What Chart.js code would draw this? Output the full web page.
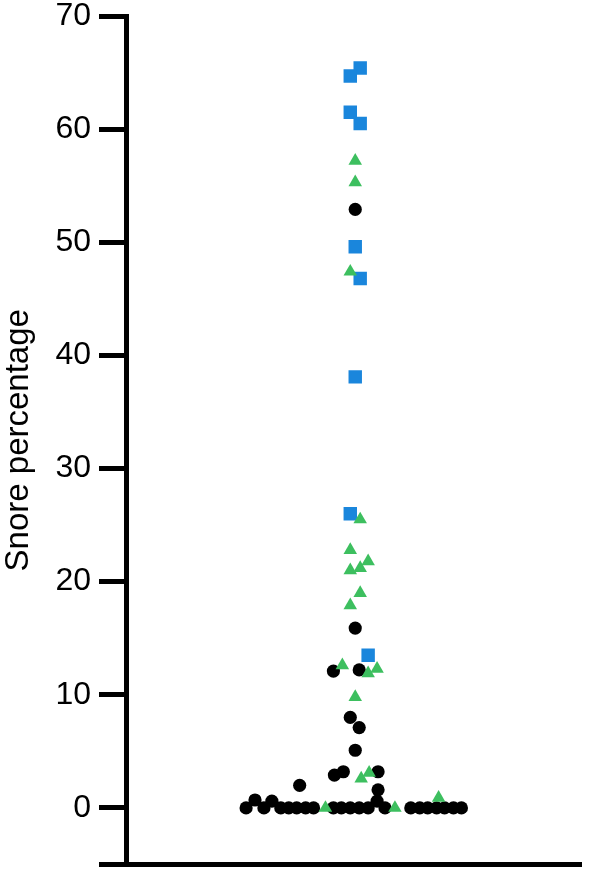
<!DOCTYPE html>
<html>
<head>
<meta charset="utf-8">
<script src="https://cdn.jsdelivr.net/npm/chart.js@4/dist/chart.umd.min.js"></script>
<style>
  html, body { margin: 0; padding: 0; background: #fff; }
  #wrap { width: 591px; height: 874px; }
</style>
</head>
<body>
<div id="wrap"><canvas id="snoreChart"></canvas></div>
<script>
// tick labels on the y axis (the -5 tick only closes the corner, no label)
const yTicks = [-5, 0, 10, 20, 30, 40, 50, 60, 70];

// snore percentage per subject, with its horizontal swarm offset
const blackY = [0, 0.7, 0, 0.6, 0, 0, 0, 0, 0,
                0, 0, 0, 0, 0, 0.6, 0,
                0, 0, 0, 0, 0, 0, 0,
                2.0, 2.9, 3.2, 3.2, 1.6, 5.1, 8.0, 7.1, 12.1, 12.2, 15.9, 52.9];
const blackX = [-110, -101, -92, -84, -75, -67, -59, -50, -42,
                -22, -14, -5, 4, 13, 22, 30,
                56, 65, 73, 82, 90, 99, 107,
                -56, -21, -12, 23, 23, 0, -5, 4, -22, 4, 0, 0];

const greenY = [0, 0, 0.9, 2.6, 3.1, 9.8, 12.6, 12.3, 11.9,
                17.9, 19.0, 21.0, 21.2, 21.8, 22.8, 25.5, 47.4, 55.3, 57.2];
const greenX = [-30, 40, 84, 6, 14, 0, -13, 22, 13,
                -5, 5, -5, 5, 13, -5, 5, -5, 0, 0];

const blueY = [65.4, 64.7, 61.5, 60.5, 49.6, 46.8, 38.1, 26.0, 13.5];
const blueX = [5, -5, -5, 5, 0, 5, 0, -5, 13];

const toPoints = (xs, ys) => ys.map((y, i) => ({ x: xs[i], y: y }));

const ctx = document.getElementById('snoreChart').getContext('2d');
const snoreChart = new Chart(ctx, {
    type: 'scatter',
    data: {
        datasets: [
            {
                label: 'green',
                data: toPoints(greenX, greenY),
                pointStyle: 'triangle',
                pointRadius: 7.8,
                backgroundColor: '#3dbf5f',
                borderWidth: 0
            },
            {
                label: 'blue',
                data: toPoints(blueX, blueY),
                pointStyle: 'rect',
                pointRadius: 9.5,
                backgroundColor: '#1a86dc',
                borderWidth: 0
            },
            {
                label: 'black',
                data: toPoints(blackX, blackY),
                pointStyle: 'circle',
                pointRadius: 6.6,
                backgroundColor: '#000000',
                borderWidth: 0
            }
        ]
    },
    options: {
        responsive: true,
        maintainAspectRatio: false,
        animation: false,
        layout: { padding: { top: 16, right: 4, left: 0, bottom: -3 } },
        plugins: {
            legend: { display: false },
            tooltip: { enabled: false }
        },
        scales: {
            x: {
                type: 'linear',
                min: -231,
                max: 228,
                ticks: { display: false },
                grid: { display: false },
                border: { display: true, width: 5, color: '#000' },
                afterFit: (axis) => {
                    axis.height = 1;
                    axis.paddingLeft = 0;
                    axis.paddingRight = 0;
                    axis.paddingTop = 0;
                    axis.paddingBottom = 0;
                }
            },
            y: {
                min: -5,
                max: 70,
                afterBuildTicks: (axis) => {
                    axis.ticks = yTicks.map(v => ({ value: v }));
                },
                ticks: {
                    padding: 8,
                    color: '#000',
                    font: { family: "'Liberation Sans', Arial, sans-serif", size: 32, lineHeight: 1 },
                    callback: (v) => v < 0 ? '' : String(v)
                },
                grid: {
                    display: true,
                    drawOnChartArea: false,
                    drawTicks: true,
                    tickLength: 27,
                    lineWidth: 5,
                    color: '#000'
                },
                border: { display: true, width: 5, color: '#000' },
                title: {
                    display: true,
                    text: 'Snore percentage',
                    color: '#000',
                    padding: { top: 1, bottom: 0 },
                    font: { family: "'Liberation Sans', Arial, sans-serif", size: 33, lineHeight: 1.1 }
                },
                afterFit: (axis) => {
                    axis.width = 126;
                    axis.paddingTop = 0;
                    axis.paddingBottom = 0;
                }
            }
        }
    }
});
</script>
</body>
</html>
